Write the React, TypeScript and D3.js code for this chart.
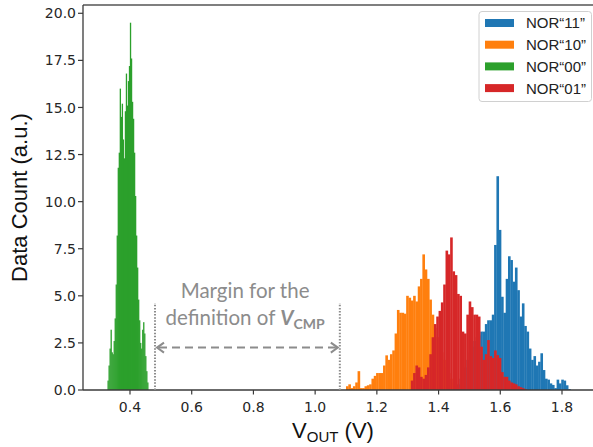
import React, { useEffect, useRef } from 'react';
import * as d3 from 'd3';

// histogram counts (bin start, bin width, counts)
const greenStart = 0.327;
const greenBin = 0.0033;
const greenCounts = [0.5, 1.3, 2.2, 3.2, 2.0, 1.9, 2.6, 3.8, 5.6, 8.2, 11.8, 12.6, 16.0, 14.5, 15.2, 13.3, 12.3, 14.8, 16.8, 15.1, 16.4, 17.2, 19.5, 17.6, 15.3, 14.4, 12.6, 10.3, 8.2, 6.5, 4.8, 3.7, 2.5, 2.2, 3.2, 3.6, 3.0, 1.8, 1.0, 0.4];

const binW = 0.0075;

const orangeStart = 1.1;
const orangeCounts = [0.2, 0.3, 0.1, 0.2, 0.4, 1.0, 0.1, 0.1, 0.2, 0.25, 0.3, 0.6, 0.75, 0.9, 0.9, 0.9, 1.3, 1.84, 1.6, 1.9, 2.1, 3.0, 4.25, 4.1, 4.1, 4.05, 5.0, 4.9, 4.75, 5.0, 4.7, 5.5, 5.9, 7.2, 6.4, 5.9, 4.8, 4.0, 3.3, 2.8, 2.4, 2.0, 1.6, 1.2, 0.9, 0.6, 0.4, 0.2, 0.1];

const redStart = 1.31;
const redCounts = [0.5, 0.9, 1.3, 1.2, 0.7, 0.6, 0.8, 1.2, 1.9, 2.8, 3.5, 3.9, 4.2, 4.65, 5.6, 7.4, 7.2, 8.1, 6.3, 6.1, 5.1, 5.0, 3.1, 3.0, 4.0, 4.7, 4.4, 4.0, 4.0, 3.9, 2.3, 1.6, 1.9, 2.65, 1.8, 1.7, 2.1, 1.85, 1.7, 0.95, 0.7, 0.7, 0.5, 0.4, 0.35, 0.3, 0.2, 0.15, 0.1, 0.05];

const blueStart = 1.46;
const blueCounts = [0.3, 0.6, 0.9, 1.2, 1.6, 2.0, 2.3, 2.6, 2.8, 2.9, 3.1, 3.1, 3.5, 3.7, 3.7, 4.0, 7.7, 11.35, 8.5, 4.95, 4.1, 5.9, 7.1, 6.9, 5.75, 6.5, 5.3, 3.9, 4.6, 3.4, 3.1, 2.2, 1.6, 1.8, 1.3, 1.5, 1.95, 1.06, 0.6, 0.55, 0.35, 0.27, 0.1, 0.55, 0.35, 0.55, 0.5, 0.25, 0.05];

const legendLabels = ['NOR“11”', 'NOR“10”', 'NOR“00”', 'NOR“01”'];
const legendColors = ['#1f77b4', '#ff7f0e', '#2ca02c', '#d62728'];

const xTicks = [0.4, 0.6, 0.8, 1.0, 1.2, 1.4, 1.6, 1.8];
const yTicks = [0, 2.5, 5, 7.5, 10, 12.5, 15, 17.5, 20];

// margin annotation (data units)
const marginLeft = 0.481;
const marginRight = 1.08;

const W = 593;
const H = 447;

const App = () => {
  const svgRef = useRef(null);

  useEffect(() => {
    const svg = d3.select(svgRef.current);
    svg.selectAll('*').remove();

    const left = 83, right = 594, top = 5, bottom = 390;

    const x = d3.scaleLinear().domain([0.2477, 1.9037]).range([left, right]);
    const y = d3.scaleLinear().domain([0, 20.44]).range([bottom, top]);

    const series = [
      { start: blueStart, w: binW, counts: blueCounts, color: legendColors[0] },
      { start: orangeStart, w: binW, counts: orangeCounts, color: legendColors[1] },
      { start: greenStart, w: greenBin, counts: greenCounts, color: legendColors[2] },
      { start: redStart, w: binW, counts: redCounts, color: legendColors[3] },
    ];

    const g = svg.append('g');

    series.forEach(s => {
      g.append('g')
        .selectAll('rect')
        .data(s.counts)
        .enter().append('rect')
        .attr('x', (d, i) => x(s.start + i * s.w))
        .attr('width', (d, i) => x(s.start + (i + 1) * s.w) - x(s.start + i * s.w) + 0.3)
        .attr('y', d => y(d))
        .attr('height', d => y(0) - y(d))
        .style('fill', s.color);
    });

    // spines
    const spine = '#3a3a3a';
    g.append('line').attr('x1', left).attr('x2', right).attr('y1', top).attr('y2', top)
      .style('stroke', '#555').style('stroke-width', 1.3);
    g.append('line').attr('x1', left).attr('x2', left).attr('y1', top).attr('y2', bottom)
      .style('stroke', spine).style('stroke-width', 1.3);
    g.append('line').attr('x1', left).attr('x2', right).attr('y1', bottom).attr('y2', bottom)
      .style('stroke', spine).style('stroke-width', 1.3);

    // x ticks
    const xt = g.append('g');
    xTicks.forEach(t => {
      xt.append('line').attr('x1', x(t)).attr('x2', x(t)).attr('y1', bottom).attr('y2', bottom + 4.5)
        .style('stroke', spine).style('stroke-width', 1.2);
      xt.append('text').attr('x', x(t)).attr('y', bottom + 22)
        .attr('text-anchor', 'middle')
        .style('font-family', 'DejaVu Sans').style('font-size', '14px').style('fill', '#262626')
        .text(d3.format('.1f')(t));
    });

    // y ticks
    const yt = g.append('g');
    yTicks.forEach(t => {
      yt.append('line').attr('x1', left - 5).attr('x2', left).attr('y1', y(t)).attr('y2', y(t))
        .style('stroke', spine).style('stroke-width', 1.2);
      yt.append('text').attr('x', left - 7).attr('y', y(t)).attr('dy', '0.36em')
        .attr('text-anchor', 'end')
        .style('font-family', 'DejaVu Sans').style('font-size', '14px').style('fill', '#262626')
        .text(d3.format('.1f')(t));
    });

    // axis labels
    g.append('text')
      .attr('transform', `translate(19, ${(top + bottom) / 2}) rotate(-90)`)
      .attr('dy', '0.35em')
      .attr('text-anchor', 'middle')
      .style('font-family', 'Liberation Sans, Arial, sans-serif').style('font-size', '22px').style('fill', '#111')
      .text('Data Count (a.u.)');

    const xl = g.append('text')
      .attr('x', 333).attr('y', 438)
      .attr('text-anchor', 'middle')
      .style('font-family', 'Liberation Sans, Arial, sans-serif').style('font-size', '22px').style('fill', '#111');
    xl.append('tspan').text('V');
    xl.append('tspan').attr('dy', 4).style('font-size', '15px').text('OUT');
    xl.append('tspan').attr('dy', -4).text(' (V)');

    // margin annotation
    const grey = '#8c8c8c';
    [marginLeft, marginRight].forEach(v => {
      g.append('line').attr('x1', x(v)).attr('x2', x(v)).attr('y1', y(0)).attr('y2', y(4.62))
        .style('stroke', grey).style('stroke-width', 2).style('stroke-dasharray', '1.5,1.6');
    });
    const ay = y(2.25);
    const ax1 = x(marginLeft) + 2, ax2 = x(marginRight) - 2;
    g.append('line').attr('x1', ax1 + 2).attr('x2', ax2 - 2).attr('y1', ay).attr('y2', ay)
      .style('stroke', grey).style('stroke-width', 2).style('stroke-dasharray', '8,5');
    g.append('path')
      .attr('d', `M${ax1 + 7},${ay - 5} L${ax1},${ay} L${ax1 + 7},${ay + 5}`)
      .style('fill', 'none').style('stroke', grey).style('stroke-width', 2);
    g.append('path')
      .attr('d', `M${ax2 - 7},${ay - 5} L${ax2},${ay} L${ax2 - 7},${ay + 5}`)
      .style('fill', 'none').style('stroke', grey).style('stroke-width', 2);

    const tx = x(0.773);
    g.append('text').attr('x', tx).attr('y', y(4.9)).attr('text-anchor', 'middle')
      .style('font-family', 'Lato, sans-serif').style('font-size', '20.5px').style('fill', grey)
      .text('Margin for the');
    const t2 = g.append('text').attr('x', tx).attr('y', y(3.45)).attr('text-anchor', 'middle')
      .style('font-family', 'Lato, sans-serif').style('font-size', '20.5px').style('fill', grey);
    t2.append('tspan').text('definition of ');
    t2.append('tspan').style('font-weight', 'bold').style('font-style', 'italic').text('V');
    t2.append('tspan').attr('dy', 4).style('font-weight', 'bold').style('font-size', '14px').text('CMP');

    // legend
    const lg = g.append('g');
    lg.append('rect').attr('x', 479).attr('y', 11.5).attr('width', 112.5).attr('height', 90).attr('rx', 3)
      .style('fill', 'white').style('fill-opacity', 0.85).style('stroke', '#d0d0d0').style('stroke-width', 1);
    legendLabels.forEach((lab, i) => {
      const cy = 23 + i * 21.7;
      lg.append('rect').attr('x', 485).attr('y', cy - 4).attr('width', 29).attr('height', 8)
        .style('fill', legendColors[i]);
      lg.append('text').attr('x', 526).attr('y', cy).attr('dy', '0.36em')
        .style('font-family', 'Liberation Sans, Arial, sans-serif').style('font-size', '15px').style('fill', '#222')
        .text(lab);
    });
  }, []);

  return (
    <div style={{ position: 'absolute', left: 0, top: 0 }}>
      <svg ref={svgRef} width={W} height={H} style={{ display: 'block' }}></svg>
    </div>
  );
};

export default App;
